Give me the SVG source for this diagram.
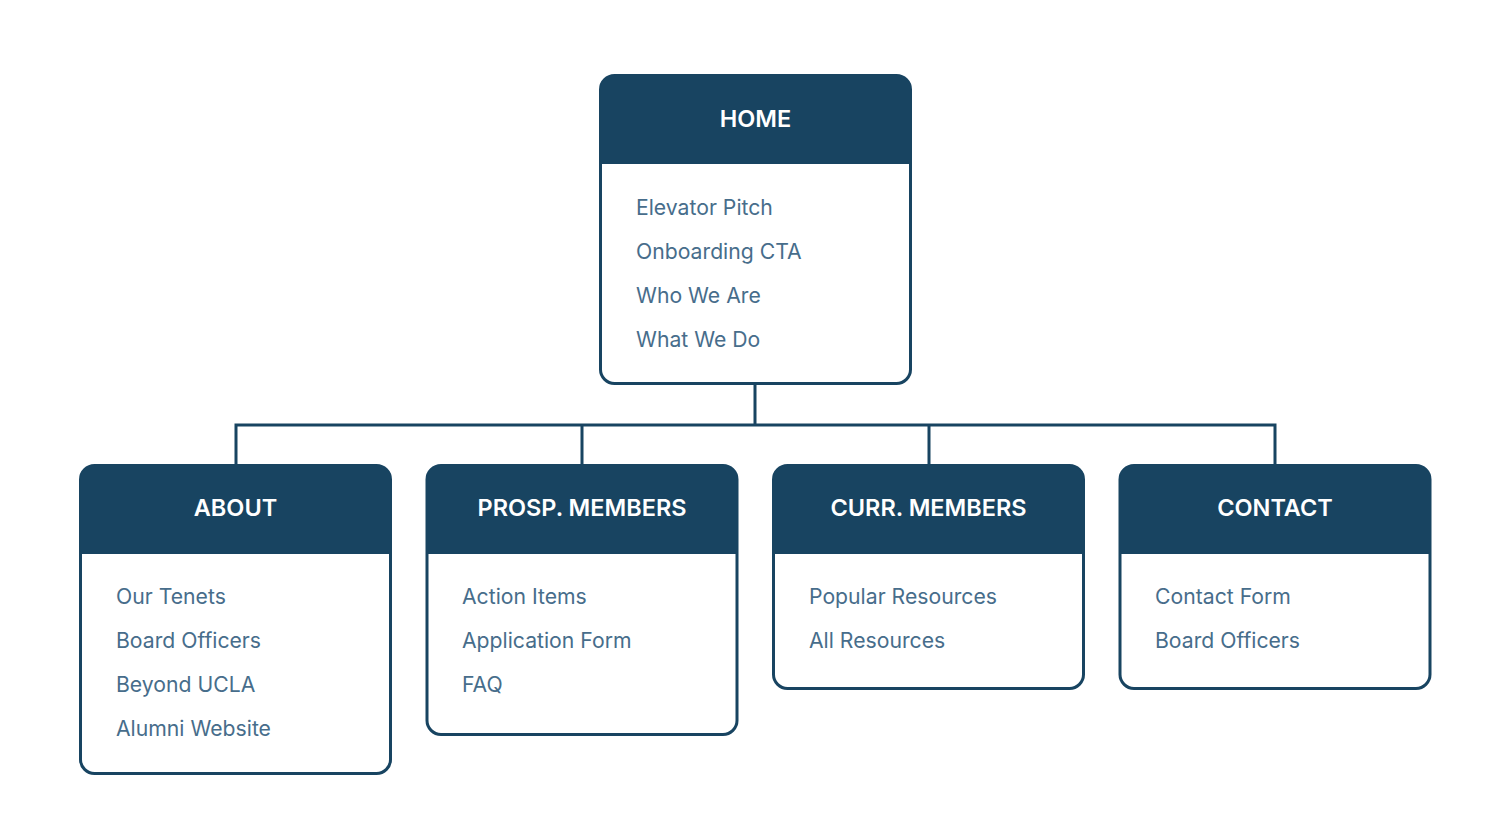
<svg xmlns="http://www.w3.org/2000/svg" width="1511" height="822" viewBox="0 0 1511 822">
<style>
.box{fill:#ffffff;stroke:#184461;stroke-width:3}
.hdr{fill:#184461}
.ttl{font-family:Inter,"Liberation Sans",sans-serif;font-weight:600;font-size:23.5px;fill:#ffffff;text-anchor:middle}
.itm{font-family:Inter,"Liberation Sans",sans-serif;font-size:21.2px;fill:#476d8b}
.con{fill:none;stroke:#184461;stroke-width:3}
</style>
<rect width="1511" height="822" fill="#ffffff"/>
<g id="connectors">
<path class="con" d="M755 384V425M236 465V425H1275V465M582 425V465M929 425V465"/>
</g>
<g id="home">
<rect class="box" x="600.5" y="75.5" width="310" height="308" rx="14"/>
<path class="hdr" d="M600.5 164V89.5A14 14 0 0 1 614.5 75.5H896.5A14 14 0 0 1 910.5 89.5V164Z"/>
<text class="ttl" x="755.5" y="127">HOME</text>
<text class="itm" x="636" y="215">Elevator Pitch</text>
<text class="itm" x="636" y="259">Onboarding CTA</text>
<text class="itm" x="636" y="303">Who We Are</text>
<text class="itm" x="636" y="347">What We Do</text>
</g>
<g id="about">
<rect class="box" x="80.5" y="465.5" width="310" height="308" rx="14"/>
<path class="hdr" d="M80.5 554V479.5A14 14 0 0 1 94.5 465.5H376.5A14 14 0 0 1 390.5 479.5V554Z"/>
<text class="ttl" x="235.5" y="516">ABOUT</text>
<text class="itm" x="116" y="604">Our Tenets</text>
<text class="itm" x="116" y="648">Board Officers</text>
<text class="itm" x="116" y="692">Beyond UCLA</text>
<text class="itm" x="116" y="736">Alumni Website</text>
</g>
<g id="prosp">
<rect class="box" x="427" y="465.5" width="310" height="269" rx="14"/>
<path class="hdr" d="M427 554V479.5A14 14 0 0 1 441 465.5H723A14 14 0 0 1 737 479.5V554Z"/>
<text class="ttl" x="582" y="516">PROSP. MEMBERS</text>
<text class="itm" x="462" y="604">Action Items</text>
<text class="itm" x="462" y="648">Application Form</text>
<text class="itm" x="462" y="692">FAQ</text>
</g>
<g id="curr">
<rect class="box" x="773.5" y="465.5" width="310" height="223" rx="14"/>
<path class="hdr" d="M773.5 554V479.5A14 14 0 0 1 787.5 465.5H1069.5A14 14 0 0 1 1083.5 479.5V554Z"/>
<text class="ttl" x="928.5" y="516">CURR. MEMBERS</text>
<text class="itm" x="809" y="604">Popular Resources</text>
<text class="itm" x="809" y="648">All Resources</text>
</g>
<g id="contact">
<rect class="box" x="1120" y="465.5" width="310" height="223" rx="14"/>
<path class="hdr" d="M1120 554V479.5A14 14 0 0 1 1134 465.5H1416A14 14 0 0 1 1430 479.5V554Z"/>
<text class="ttl" x="1275" y="516">CONTACT</text>
<text class="itm" x="1155" y="604">Contact Form</text>
<text class="itm" x="1155" y="648">Board Officers</text>
</g>
</svg>
